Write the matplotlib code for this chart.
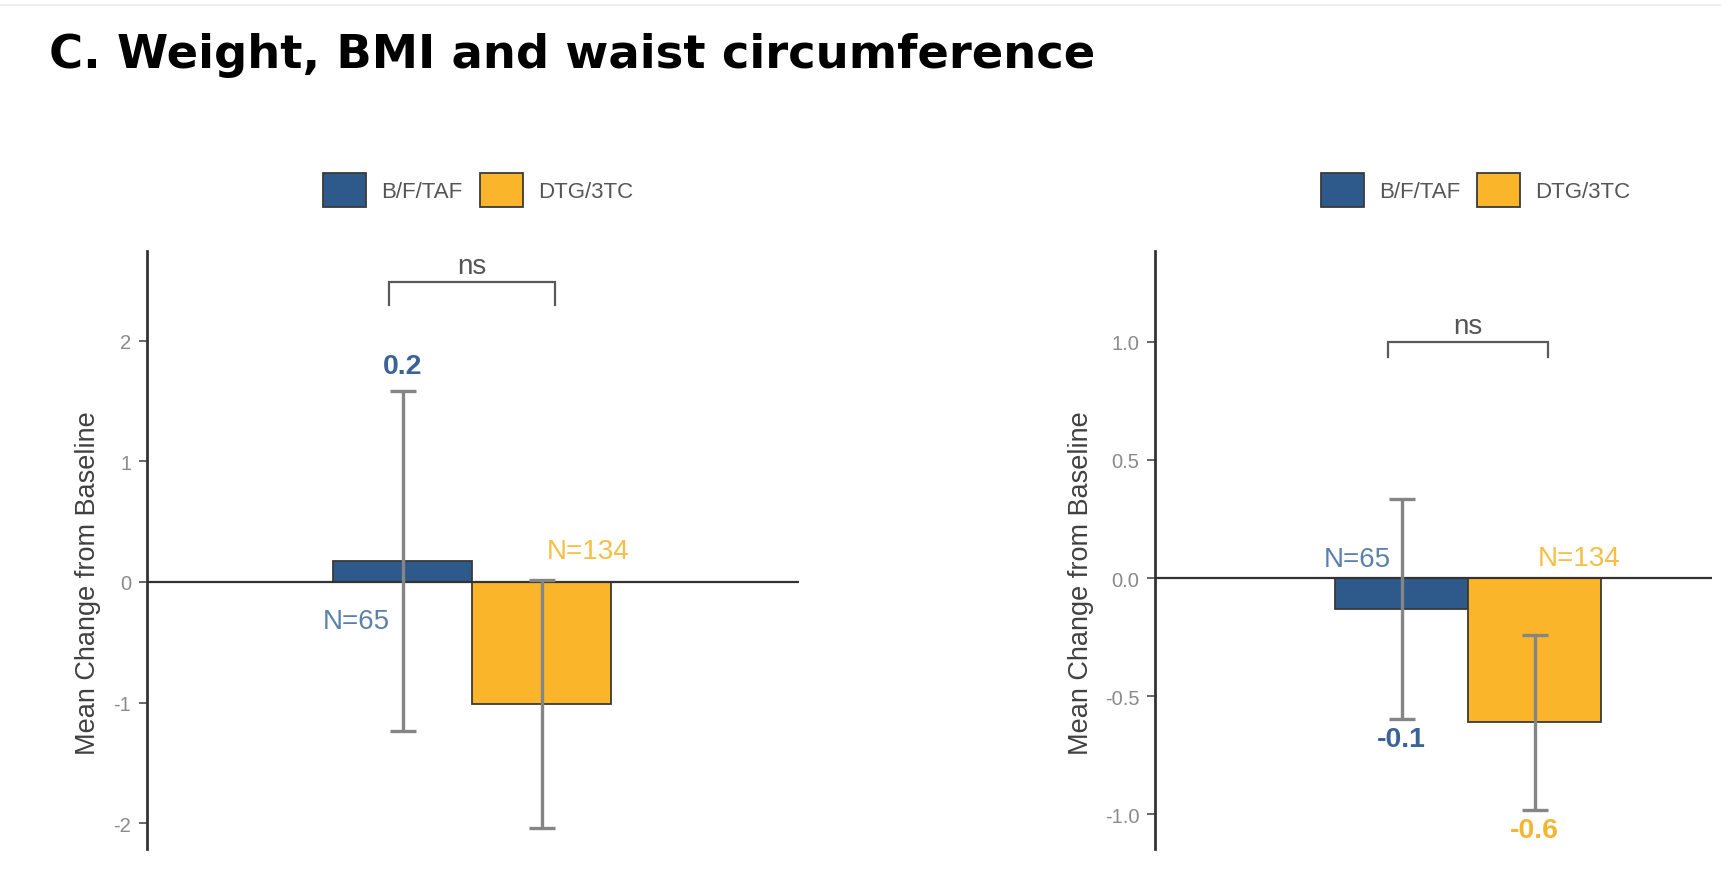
import matplotlib
matplotlib.use("Agg")
import matplotlib.pyplot as plt
from matplotlib.patches import Patch
from matplotlib.lines import Line2D

# ---- data -------------------------------------------------------------
groups = ["B/F/TAF", "DTG/3TC"]
bar_colors = ["#2D5A8B", "#FBB52B"]
label_colors = ["#3A6399", "#F6B531"]
n_colors = ["#5B80AE", "#F7BE45"]
n_labels = ["N=65", "N=134"]

weight_mean = [0.17, -1.01]
weight_err = [1.41, 1.03]
weight_ticks = [-2, -1, 0, 1, 2]
weight_ticklabels = ["-2", "-1", "0", "1", "2"]

bmi_mean = [-0.13, -0.61]
bmi_err = [0.465, 0.37]
bmi_ticks = [-1.0, -0.5, 0.0, 0.5, 1.0]
bmi_ticklabels = ["-1.0", "-0.5", "0.0", "0.5", "1.0"]

sig_label = "ns"
title = "C. Weight, BMI and waist circumference"
ylabel = "Mean Change from Baseline"

# ---- figure -----------------------------------------------------------
W, H = 1721, 879
fig = plt.figure(figsize=(W / 100, H / 100), dpi=100)
fig.patch.set_facecolor("white")
plt.rcParams["font.family"] = ["Liberation Sans", "DejaVu Sans"]

fig.add_artist(Line2D([0.0, 1.0], [1 - 6 / H, 1 - 6 / H], transform=fig.transFigure,
                      color="#ececec", lw=1.2))

fig.text(49 / W, 1 - 68 / H, title, fontsize=33.5, fontweight="bold",
         family="DejaVu Sans", ha="left", va="baseline", color="black")

width = 0.5
xpos = [-0.25, 0.25]


def px_rect(x0, x1, y0, y1):
    return [x0 / W, 1 - y1 / H, (x1 - x0) / W, (y1 - y0) / H]


panels = [
    dict(rect=px_rect(147, 799, 252, 850), mean=weight_mean, err=weight_err,
         ylim=(-2.215, 2.745), xlim=(-1.169, 1.176), ticks=weight_ticks,
         ticklabels=weight_ticklabels, show_value=[True, False],
         n_off=[-33.5, 17.6], br_top=2.49, br_drop=0.19,
         leg_center=(478, 191), ylab_x=-0.0905),
    dict(rect=px_rect(1155, 1712, 252, 850), mean=bmi_mean, err=bmi_err,
         ylim=(-1.146, 1.383), xlim=(-1.177, 0.917), ticks=bmi_ticks,
         ticklabels=bmi_ticklabels, show_value=[True, True],
         n_off=[8.3, 9.4], br_top=1.0, br_drop=0.065,
         leg_center=(1475.5, 191), ylab_x=-0.133),
]

for p in panels:
    ax = fig.add_axes(p["rect"])
    ax.set_xlim(*p["xlim"])
    ax.set_ylim(*p["ylim"])

    ax.bar(xpos, p["mean"], width=width, color=bar_colors,
           edgecolor="#3a3a3a", linewidth=1.3, zorder=2)
    ax.axhline(0, color="#333333", lw=1.6, zorder=3)
    ax.errorbar(xpos, p["mean"], yerr=p["err"], fmt="none", ecolor="#858585",
                elinewidth=2.4, capsize=9.5, capthick=2.4, zorder=4)

    # value labels beyond the error bar end
    for i, (x, m, e) in enumerate(zip(xpos, p["mean"], p["err"])):
        if not p["show_value"][i]:
            continue
        if m >= 0:
            y, off = m + e, 13.5
        else:
            y, off = m - e, -19.5
        ax.annotate(f"{m:.1f}", (x, y), xytext=(0, off), textcoords="offset points",
                    ha="center", va="baseline", fontsize=20.5, fontweight="bold",
                    color=label_colors[i], zorder=5)

    # group sizes
    for i, sign in enumerate([-1, 1]):
        ax.annotate(n_labels[i], (sign * 0.417, 0), xytext=(0, p["n_off"][i]),
                    textcoords="offset points", ha="center", va="baseline",
                    fontsize=20, color=n_colors[i], zorder=5)

    # significance bracket
    bt, bd = p["br_top"], p["br_drop"]
    ax.plot([-0.3, -0.3, 0.3, 0.3], [bt - bd, bt, bt, bt - bd],
            color="#5a5a5a", lw=1.6, zorder=5, solid_joinstyle="miter")
    ax.annotate(sig_label, (0, bt), xytext=(0, 6.5), textcoords="offset points",
                ha="center", va="baseline", fontsize=20, color="#555555")

    # axes styling
    for s in ["top", "right", "bottom"]:
        ax.spines[s].set_visible(False)
    ax.spines["left"].set_color("#333333")
    ax.spines["left"].set_linewidth(2.0)
    ax.set_xticks([])
    ax.set_yticks(p["ticks"])
    ax.set_yticklabels(p["ticklabels"])
    ax.tick_params(axis="y", length=5.8, width=1.4, color="#666666", pad=5.5,
                   labelsize=14.5, labelcolor="#8a8a8a")
    ax.set_ylabel(ylabel, fontsize=19.5, color="#404040")
    ax.yaxis.label.set_va("center")
    ax.yaxis.set_label_coords(p["ylab_x"], 0.447)
    ax.set_facecolor("none")

    handles = [Patch(facecolor=c, edgecolor="#3a3a3a", linewidth=1.3) for c in bar_colors]
    cx, cy = p["leg_center"]
    fig.legend(handles, groups, loc="center", bbox_to_anchor=(cx / W, 1 - cy / H),
               ncol=2, frameon=False, fontsize=16, handlelength=1.94,
               handleheight=1.94, handletextpad=0.68, columnspacing=0.77,
               borderpad=0, labelcolor="#555555")

fig.savefig("out.png", dpi=100, facecolor="white")
